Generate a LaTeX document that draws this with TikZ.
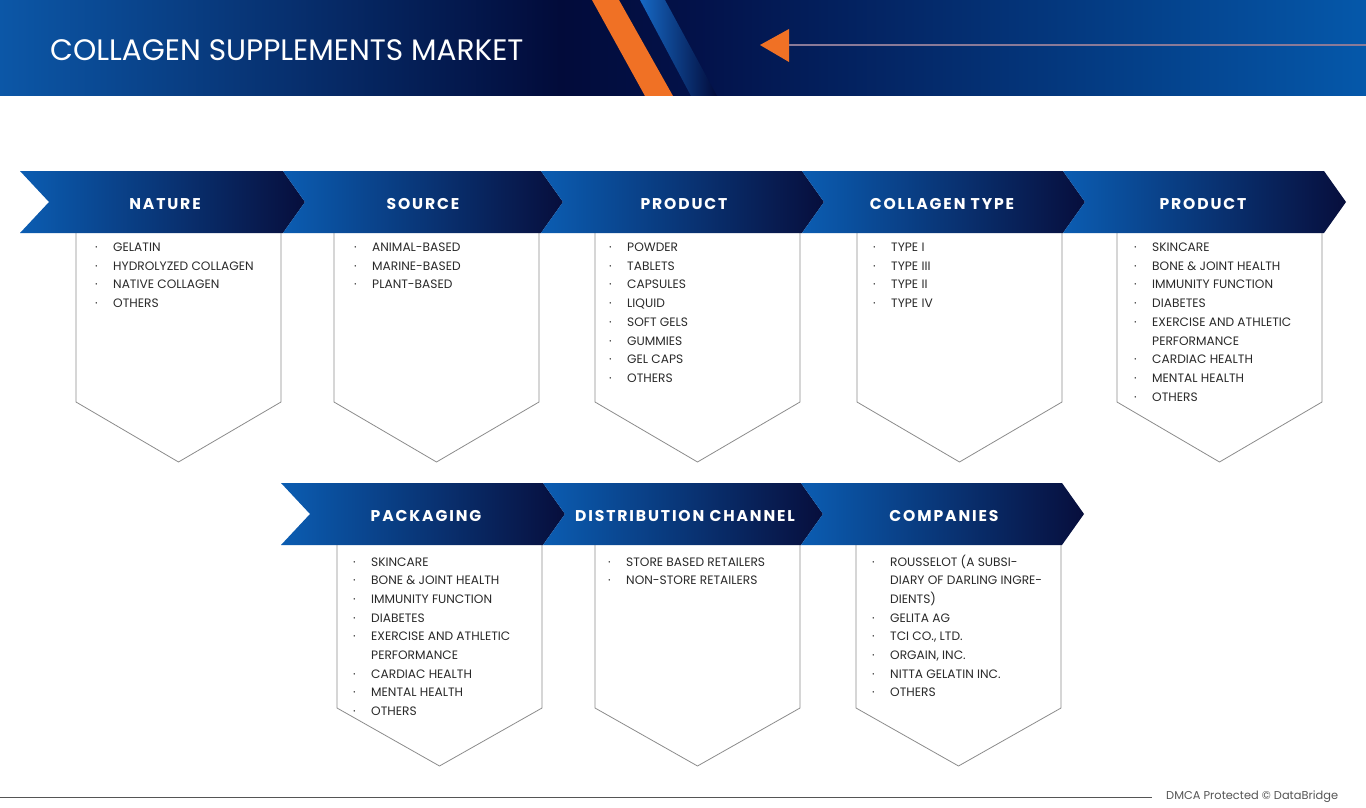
\documentclass[tikz,border=0pt]{standalone}
\usepackage{fontspec}
\setmainfont{Poppins}
\newfontfamily\hdfont[LetterSpace=12]{Poppins}
\definecolor{hblue}{HTML}{0C57A7}
\definecolor{hdark}{HTML}{020B3A}
\definecolor{hdark2}{HTML}{03124A}
\definecolor{hblue2}{HTML}{0558AA}
\definecolor{cvl}{HTML}{0B5DB2}
\definecolor{cvr}{HTML}{070E3C}
\definecolor{orng}{HTML}{F07125}
\definecolor{stripe}{HTML}{1668C4}
\definecolor{hline}{HTML}{8A7A98}
\definecolor{boxline}{HTML}{8C8C8C}
\definecolor{itemtext}{HTML}{2A2A2A}
\definecolor{foot}{HTML}{555555}
\pgfdeclarehorizontalshading{hdrshade}{100bp}{color(0bp)=(hblue); color(25bp)=(hblue); color(45.5bp)=(hdark); color(50.6bp)=(hdark2); color(75bp)=(hblue2); color(100bp)=(hblue2)}
\newcommand\bi[1]{\makebox[18pt][l]{·}#1}
\newcommand\ci[1]{\hspace*{18pt}#1}
\newcommand\blist[4]{%
  \foreach \t [count=\i] in {#4} {%
    \node[itm] (#1-\i) at ({#2-18},{#3+(\i-1)*18.7}) {\t};}}
\newcommand\chev[4]{%
  \shade[left color=cvl, right color=cvr] (#1,#3) -- (#2,#3) -- ({#2+22},{#3+31}) -- (#2,{#3+62}) -- (#1,{#3+62}) -- ({#1+#4},{#3+31}) -- cycle;}
\newcommand\catbox[4]{%
  \draw[boxline, line width=0.8pt] (#1,#2) -- (#1,#3) -- ({#1+102.5},#4) -- ({#1+205},#3) -- ({#1+205},#2);}
\begin{document}
\begin{tikzpicture}[x=1pt,y=-1pt,
  itm/.style={anchor=base west, inner sep=0pt, text=itemtext, font=\fontsize{12.2}{14}\selectfont},
  hd/.style={inner sep=0pt, text=white, font=\hdfont\bfseries\fontsize{15.6}{17}\selectfont},
  ttl/.style={anchor=base west, inner sep=0pt, text=white, font=\fontsize{29.6}{34}\selectfont},
  ft/.style={anchor=west, inner sep=0pt, text=foot, font=\fontsize{11.4}{13}\selectfont}]
\useasboundingbox (0,0) rectangle (1366,808);
\fill[white] (0,0) rectangle (1366,808);
% header band
\shade[shading=hdrshade] (0,0) rectangle (1366,96);
\fill[orng] (592,0) -- (619,0) -- (673,96) -- (645,96) -- cycle;
\shade[left color=stripe, right color=hdark] (640,0) -- (665,0) -- (717,96) -- (691,96) -- cycle;
\coordinate (arrowtip) at (760,45);
\coordinate (lineend) at (1366,45);
\fill[orng] (arrowtip) -- (789,29) -- (789,62) -- cycle;
\draw[hline, line width=1.6pt] (789,45) -- (lineend);
\node[ttl] (title) at (50,60) {COLLAGEN SUPPLEMENTS MARKET};
% boxes row 1
\catbox{76}{232}{402}{462}
\catbox{334}{232}{402}{462}
\catbox{595}{232}{402}{462}
\catbox{857}{232}{402}{462}
\catbox{1117}{232}{402}{462}
% boxes row 2
\catbox{337}{544}{708}{766}
\catbox{595}{544}{708}{766}
\catbox{856}{544}{708}{766}
% chevrons row 1
\chev{20}{283}{171}{29}
\chev{283}{541}{171}{22}
\chev{541}{802}{171}{22}
\chev{802}{1063}{171}{22}
\chev{1063}{1324}{171}{22}
% chevrons row 2
\chev{281}{543}{483}{29}
\chev{543}{801}{483}{22}
\chev{801}{1062}{483}{22}
% headings
\node[hd] (h1) at (165,204) {NATURE};
\node[hd] (h2) at (423,204) {SOURCE};
\node[hd] (h3) at (684,204) {PRODUCT};
\node[hd] (h4) at (942,204) {COLLAGEN TYPE};
\node[hd] (h5) at (1203,204) {PRODUCT};
\node[hd] (h6) at (426,516) {PACKAGING};
\node[hd] (h7) at (685,516) {DISTRIBUTION CHANNEL};
\node[hd] (h8) at (944,516) {COMPANIES};
% lists
\blist{a}{113}{251.5}{\bi{GELATIN},\bi{HYDROLYZED COLLAGEN},\bi{NATIVE COLLAGEN},\bi{OTHERS}}
\blist{b}{372}{251.5}{\bi{ANIMAL-BASED},\bi{MARINE-BASED},\bi{PLANT-BASED}}
\blist{c}{627}{251.5}{\bi{POWDER},\bi{TABLETS},\bi{CAPSULES},\bi{LIQUID},\bi{SOFT GELS},\bi{GUMMIES},\bi{GEL CAPS},\bi{OTHERS}}
\blist{d}{891}{251.5}{\bi{TYPE I},\bi{TYPE III},\bi{TYPE II},\bi{TYPE IV}}
\blist{e}{1152}{251.5}{\bi{SKINCARE},\bi{BONE \& JOINT HEALTH},\bi{IMMUNITY FUNCTION},\bi{DIABETES},\bi{EXERCISE AND ATHLETIC},\ci{PERFORMANCE},\bi{CARDIAC HEALTH},\bi{MENTAL HEALTH},\bi{OTHERS}}
\blist{f}{371}{566}{\bi{SKINCARE},\bi{BONE \& JOINT HEALTH},\bi{IMMUNITY FUNCTION},\bi{DIABETES},\bi{EXERCISE AND ATHLETIC},\ci{PERFORMANCE},\bi{CARDIAC HEALTH},\bi{MENTAL HEALTH},\bi{OTHERS}}
\blist{g}{626}{566}{\bi{STORE BASED RETAILERS},\bi{NON-STORE RETAILERS}}
\blist{h}{890}{566}{\bi{ROUSSELOT (A SUBSI-},\ci{DIARY OF DARLING INGRE-},\ci{DIENTS)},\bi{GELITA AG},\bi{TCI CO., LTD.},\bi{ORGAIN, INC.},\bi{NITTA GELATIN INC.},\bi{OTHERS}}
% footer
\coordinate (footstart) at (0,797);
\coordinate (footend) at (1152,797);
\draw[foot, line width=1pt] (footstart) -- (footend);
\node[ft] (footer) at (1166,797) {DMCA Protected © DataBridge};
\end{tikzpicture}
\end{document}
